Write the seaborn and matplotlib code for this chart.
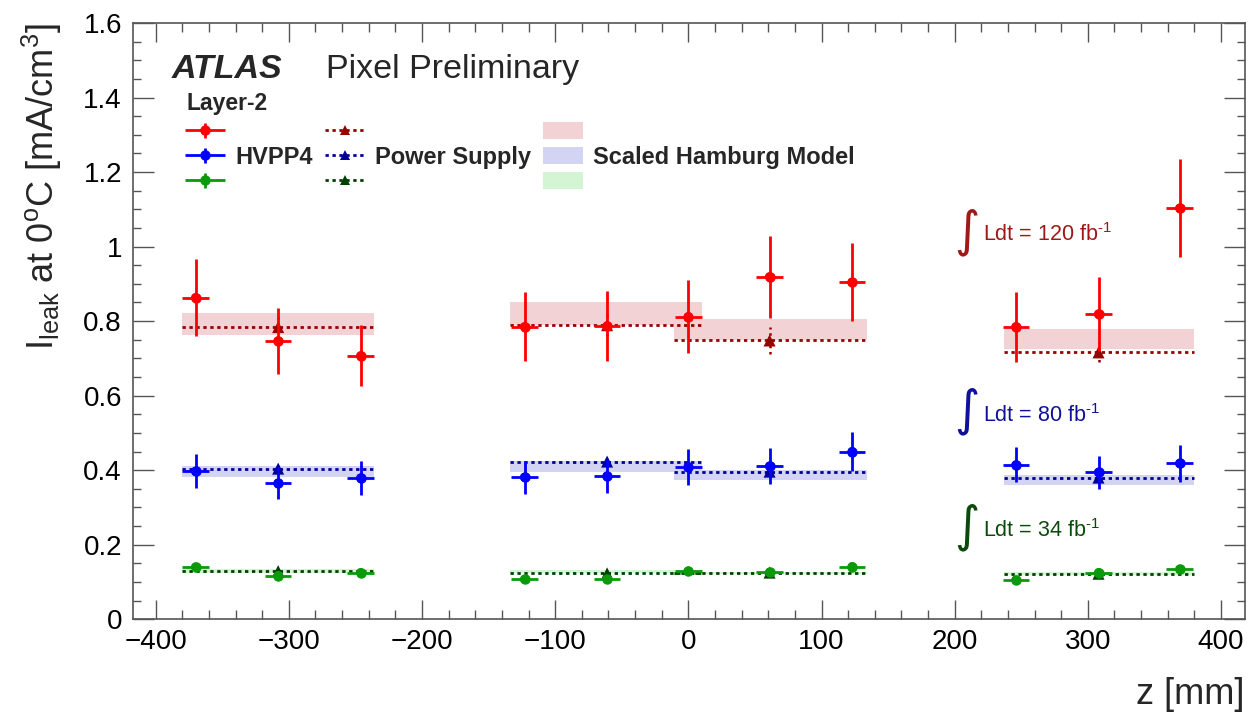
import numpy as np
import pandas as pd
import matplotlib
matplotlib.use("Agg")
import matplotlib.pyplot as plt
import seaborn as sns
from matplotlib.lines import Line2D
from matplotlib.patches import Patch
from matplotlib.legend_handler import HandlerErrorbar
from matplotlib.ticker import MultipleLocator, FormatStrFormatter

# ---------------- data ----------------
z_hv = [-370, -308, -246, -123, -61, 0, 61, 123, 246, 308, 369]
z_halfwidth = [10, 10, 10, 10, 10, 10, 10, 10, 10, 10, 10]

hv_120 = [0.863, 0.747, 0.707, 0.785, 0.787, 0.812, 0.919, 0.904, 0.785, 0.819, 1.103]
hv_120_err = [0.103, 0.088, 0.082, 0.092, 0.093, 0.097, 0.110, 0.105, 0.094, 0.100, 0.132]
hv_80 = [0.397, 0.365, 0.379, 0.381, 0.384, 0.409, 0.411, 0.450, 0.414, 0.394, 0.418]
hv_80_err = [0.046, 0.043, 0.045, 0.044, 0.045, 0.048, 0.048, 0.053, 0.047, 0.045, 0.050]
hv_34 = [0.140, 0.117, 0.125, 0.107, 0.107, 0.129, 0.126, 0.141, 0.105, 0.125, 0.134]
hv_34_err = [0.010, 0.009, 0.009, 0.008, 0.008, 0.009, 0.009, 0.010, 0.008, 0.009, 0.010]

z_ps = [-308, -61, 61, 308]
ps_120 = [0.784, 0.789, 0.748, 0.716]
ps_120_err = [0.030, 0.030, 0.037, 0.027]
ps_80 = [0.404, 0.423, 0.396, 0.380]
ps_80_err = [0.015, 0.015, 0.015, 0.015]
ps_34 = [0.129, 0.123, 0.125, 0.122]
ps_34_err = [0.005, 0.005, 0.005, 0.005]

seg_lo = [-380, -134, -11, 237]
seg_hi = [-236, 10.5, 134, 380]
ham_120_lo = [0.763, 0.789, 0.749, 0.726]
ham_120_hi = [0.822, 0.851, 0.806, 0.779]
ham_80_lo = [0.382, 0.394, 0.374, 0.360]
ham_80_hi = [0.412, 0.425, 0.401, 0.387]
ham_34_lo = [0.124, 0.123, 0.121, 0.118]
ham_34_hi = [0.135, 0.133, 0.128, 0.126]

lumi_labels = ["120", "80", "34"]

# ---------------- style ----------------
sns.set_theme(style="ticks")
plt.rcParams["font.family"] = ["Liberation Sans", "DejaVu Sans"]
plt.rcParams["mathtext.fontset"] = "custom"
plt.rcParams["mathtext.rm"] = "Liberation Sans"
plt.rcParams["mathtext.it"] = "Liberation Sans:italic"
plt.rcParams["mathtext.bf"] = "Liberation Sans:bold"

c_hv = {"120": "#ff0000", "80": "#0000ff", "34": "#0a9a0a"}
c_ps = {"120": "#990000", "80": "#000099", "34": "#004000"}
c_band = {"120": "#f2d2d4", "80": "#d3d3f3", "34": "#d3f5d3"}
c_txt = {"120": "#a01818", "80": "#10109a", "34": "#0c4a0c"}

hv = {"120": (hv_120, hv_120_err), "80": (hv_80, hv_80_err), "34": (hv_34, hv_34_err)}
ps = {"120": (ps_120, ps_120_err), "80": (ps_80, ps_80_err), "34": (ps_34, ps_34_err)}
ham = {"120": (ham_120_lo, ham_120_hi), "80": (ham_80_lo, ham_80_hi), "34": (ham_34_lo, ham_34_hi)}

fig = plt.figure(figsize=(12.48, 7.17), dpi=100)
ax = fig.add_axes([133 / 1248, 1 - 619.2 / 717, 1112 / 1248, 596.2 / 717])

# long-form frames for seaborn
df_hv = pd.DataFrame({
    "z": z_hv * 3,
    "I": hv_120 + hv_80 + hv_34,
    "lumi": ["120"] * len(z_hv) + ["80"] * len(z_hv) + ["34"] * len(z_hv),
})
df_ps = pd.DataFrame({
    "z": z_ps * 3,
    "I": ps_120 + ps_80 + ps_34,
    "lumi": ["120"] * len(z_ps) + ["80"] * len(z_ps) + ["34"] * len(z_ps),
})

seg_w = [h - l for l, h in zip(seg_lo, seg_hi)]
hv_handles = {}
for key in lumi_labels:
    lo, hi = ham[key]
    ax.bar(seg_lo, [h - l for l, h in zip(lo, hi)], width=seg_w, bottom=lo,
           align="edge", color=c_band[key], linewidth=0, zorder=1)
    vals, errs = ps[key]
    ax.hlines(vals, seg_lo, seg_hi, colors=c_ps[key], linestyles=(0, (1.2, 1.3)),
              linewidth=2.0, zorder=2)
    eb = ax.errorbar(z_ps, vals, yerr=errs, fmt="none", ecolor=c_ps[key],
                     elinewidth=1.8, zorder=3)
    eb[2][0].set_linestyle((0, (1.0, 1.5)))
    y, e = hv[key]
    hv_handles[key] = ax.errorbar(z_hv, y, xerr=z_halfwidth, yerr=e, fmt="o",
                                  color=c_hv[key], ms=6.5, elinewidth=2.0,
                                  capsize=0, zorder=4)

sns.scatterplot(data=df_ps, x="z", y="I", hue="lumi", palette=c_ps, marker="^",
                s=75, edgecolor="none", legend=False, ax=ax, zorder=3.5)
sns.scatterplot(data=df_hv, x="z", y="I", hue="lumi", palette=c_hv, marker="o",
                s=45, edgecolor="none", legend=False, ax=ax, zorder=5)

# ---------------- axes ----------------
ax.set_xlim(-417, 418)
ax.set_ylim(0, 1.6)
ax.xaxis.set_major_locator(MultipleLocator(100))
ax.xaxis.set_minor_locator(MultipleLocator(20))
ax.yaxis.set_major_locator(MultipleLocator(0.2))
ax.yaxis.set_minor_locator(MultipleLocator(0.05))
ax.yaxis.set_major_formatter(FormatStrFormatter("%g"))
ax.tick_params(which="both", direction="in", top=True, right=True,
               color="#555555", labelsize=20, labelcolor="black", width=1.0)
ax.tick_params(axis="x", which="major", length=14, pad=7)
ax.tick_params(axis="x", which="minor", length=6.5)
ax.tick_params(axis="y", which="major", length=15, pad=8)
ax.tick_params(axis="y", which="minor", length=5.5)
for s in ax.spines.values():
    s.set_color("#555555")
    s.set_linewidth(1.2)

ax.set_xlabel("z [mm]", fontsize=26, loc="right", labelpad=16)
ax.set_ylabel(r"I$_{\rm leak}$ at 0$^{\rm o}$C [mA/cm$^{3}$]", fontsize=26,
              loc="top", labelpad=14)

# ---------------- texts ----------------
ax.text(-388, 1.452, "ATLAS", fontsize=24.5, fontweight="bold", fontstyle="italic",
        va="baseline")
ax.text(-272, 1.452, "Pixel Preliminary", fontsize=24.5, va="baseline")
ax.text(-377, 1.367, "Layer-2", fontsize=16.5, fontweight="bold", va="baseline")

lumi_pos = {"120": (1.015, 1.0395), "80": (0.530, 0.5576), "34": (0.2215, 0.2475)}
for key in lumi_labels:
    base, mid = lumi_pos[key]
    ax.text(209.5, mid, "\u222b", fontsize=35, color=c_txt[key], va="center",
            ha="center", family="DejaVu Sans")
    ax.text(221.5, base, r"Ldt = %s fb$^{\text{-1}}$" % key, fontsize=15.5,
            color=c_txt[key], va="baseline", ha="left")

# ---------------- legend ----------------
ps_proxies = [Line2D([], [], color=c_ps[k], ls=(0, (1.2, 1.3)), lw=2.0, marker="^",
                     ms=7.5, markeredgewidth=0) for k in lumi_labels]
band_proxies = [Patch(facecolor=c_band[k], edgecolor="none") for k in lumi_labels]
handles = [hv_handles[k] for k in lumi_labels] + ps_proxies + band_proxies
labels = ["", "HVPP4", "", "", "Power Supply", "", "", "Scaled Hamburg Model", ""]
leg = ax.legend(handles, labels, ncol=3, loc="upper left",
                bbox_to_anchor=(0.0468, 0.836), frameon=False, borderpad=0,
                borderaxespad=0, handlelength=1.7, handletextpad=0.42,
                columnspacing=0.52, labelspacing=0.08, handleheight=0.75,
                prop={"weight": "bold", "size": 17},
                handler_map={type(hv_handles["120"]): HandlerErrorbar(xerr_size=0.85, yerr_size=0.32)})

fig.savefig("out.png", dpi=100)
